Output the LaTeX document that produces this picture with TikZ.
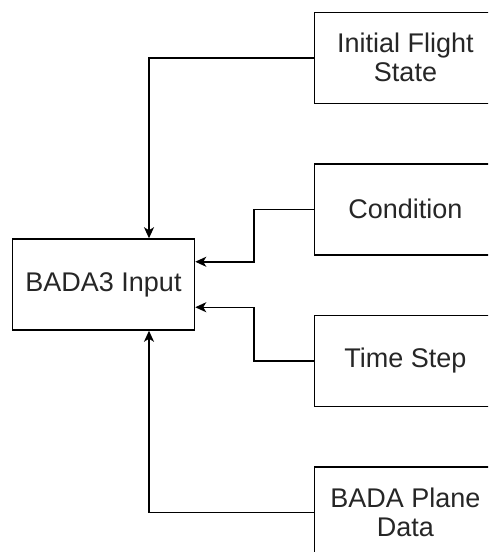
\documentclass[tikz,border=0pt]{standalone}
\usepackage{fontspec}
\setmainfont{Liberation Sans}
\usetikzlibrary{positioning,arrows.meta}
\begin{document}
\begin{tikzpicture}[
  x=1pt, y=-1pt,
  block/.style={draw, line width=1.5pt, minimum width=182pt, minimum height=91pt, inner sep=0pt, align=center, text=black!85, font=\fontsize{27}{29}\selectfont},
  msg/.style={-{Stealth[length=11pt,width=10pt,inset=3pt]}, line width=1.5pt},
  node distance=59pt
]
\clip (0,0) rectangle (488,552);
\node[block] (input) at (103.5,284.5) {BADA3 Input};
\node[block] (ifs) at (405.5,57.75) {Initial Flight\\State};
\node[block, below=of ifs] (cond) {Condition};
\node[block, below=of cond] (tstep) {Time Step};
\node[block, below=of tstep] (plane) {BADA Plane\\Data};
\draw[msg] (ifs.west) -| ([xshift=45.5pt]input.north);
\draw[msg] (cond.west) -- ++(-60,0) |- ([yshift=22.75pt]input.east);
\draw[msg] (tstep.west) -- ++(-60,0) |- ([yshift=-22.75pt]input.east);
\draw[msg] (plane.west) -| ([xshift=45.5pt]input.south);
\end{tikzpicture}
\end{document}
